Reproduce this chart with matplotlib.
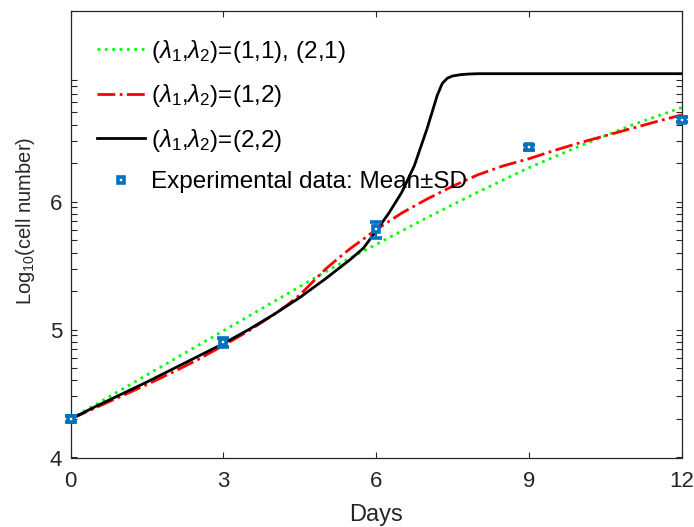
import matplotlib
matplotlib.use('Agg')
import matplotlib.pyplot as plt
import numpy as np
from matplotlib.ticker import FixedLocator, FixedFormatter, NullFormatter
from matplotlib.lines import Line2D

plt.rcParams['font.family'] = ['Liberation Sans', 'DejaVu Sans']
plt.rcParams['mathtext.fontset'] = 'custom'
plt.rcParams['mathtext.rm'] = 'Liberation Sans'
plt.rcParams['mathtext.it'] = 'Liberation Sans:italic'
plt.rcParams['mathtext.bf'] = 'Liberation Sans:bold'

# ---- data (log10 of cell number) ----
days_green = [0, 0.5, 1, 1.5, 2, 2.5, 3, 3.5, 4, 4.5, 5, 5.5, 6, 6.5, 7, 7.5, 8, 8.5, 9, 9.5, 10, 10.5, 11, 11.5, 12]
log_green = [4.30, 4.415, 4.53, 4.645, 4.76, 4.875, 4.99, 5.105, 5.22, 5.335, 5.45, 5.56, 5.665, 5.77, 5.875, 5.975, 6.075, 6.17, 6.265, 6.35, 6.435, 6.515, 6.595, 6.665, 6.735]

days_red = [0, 0.5, 1, 1.5, 2, 2.5, 3, 3.5, 4, 4.25, 4.5, 4.75, 5, 5.25, 5.5, 6, 6.5, 7, 7.5, 8, 8.5, 9, 9.5, 10, 10.5, 11, 11.5, 12]
log_red = [4.30, 4.39, 4.48, 4.57, 4.665, 4.765, 4.875, 4.99, 5.12, 5.19, 5.27, 5.37, 5.47, 5.555, 5.635, 5.78, 5.91, 6.02, 6.12, 6.21, 6.28, 6.335, 6.40, 6.46, 6.515, 6.57, 6.625, 6.678]

days_black = [0, 0.5, 1, 1.5, 2, 2.5, 3, 3.5, 4, 4.5, 5, 5.5, 5.75, 6, 6.25, 6.5, 6.75, 7, 7.1, 7.2, 7.3, 7.4, 7.5, 7.65, 7.8, 8, 9, 10, 11, 12]
log_black = [4.30, 4.40, 4.495, 4.59, 4.69, 4.79, 4.89, 5.0, 5.12, 5.25, 5.395, 5.55, 5.636, 5.77, 5.91, 6.07, 6.28, 6.57, 6.70, 6.83, 6.925, 6.965, 6.982, 6.992, 6.997, 7.0, 7.0, 7.0, 7.0, 7.0]

exp_days = [0, 3, 6, 9, 12]
exp_mean = [2.0e4, 7.94e4, 6.08e5, 2.66e6, 4.36e6]
exp_sd = [1.0e3, 6.0e3, 9.0e4, 1.2e5, 2.0e5]

x_ticks = [0, 3, 6, 9, 12]
y_ticks = [1e4, 1e5, 1e6]
y_tick_labels = ['4', '5', '6']

labels = [r'($\lambda_1$,$\lambda_2$)=(1,1), (2,1)',
          r'($\lambda_1$,$\lambda_2$)=(1,2)',
          r'($\lambda_1$,$\lambda_2$)=(2,2)',
          'Experimental data: Mean\u00b1SD']

blue = '#0072BD'
fs = 16
fs_leg = 17.5

fig = plt.figure(figsize=(6.94, 5.27), dpi=100)
ax = fig.add_axes([70.5/694, 1-457.5/527, (681.7-70.5)/694, (457.5-11)/527])

to_cells = lambda v: 10**np.asarray(v)
ax.plot(days_green, to_cells(log_green), ':', color=(0, 1, 0), lw=2.0)
ax.plot(days_red, to_cells(log_red), '-.', color=(1, 0, 0), lw=2.0)
ax.plot(days_black, to_cells(log_black), '-', color='black', lw=2.0)
ax.errorbar(exp_days, exp_mean, yerr=exp_sd, fmt='s', color=blue, mfc='white', mec=blue,
            ms=4.7, mew=2.6, capsize=4.5, elinewidth=1.5, capthick=1.5, clip_on=False, zorder=5)

ax.set_yscale('log')
ax.set_xlim(0, 12)
ax.set_ylim(1e4, 10**7.49)

ax.xaxis.set_major_locator(FixedLocator(x_ticks))
ax.yaxis.set_major_locator(FixedLocator(y_ticks))
ax.yaxis.set_major_formatter(FixedFormatter(y_tick_labels))
minor = [k*10**n for n in (4, 5, 6) for k in range(2, 10)]
ax.yaxis.set_minor_locator(FixedLocator(minor))
ax.yaxis.set_minor_formatter(NullFormatter())

ax.tick_params(which='both', direction='in', top=True, right=True, length=4.4, width=0.8,
               color='#262626', labelsize=fs, labelcolor='#262626')
ax.tick_params(axis='x', pad=9.5)
ax.tick_params(axis='y', pad=6)
for s in ax.spines.values():
    s.set_color('#262626')
    s.set_linewidth(0.9)

ax.set_xlabel('Days', fontsize=17, color='#262626', labelpad=9)
ax.set_ylabel(r'Log$_{10}$(cell number)', fontsize=14.5, color='#262626')
ax.yaxis.set_label_coords(-0.054, 0.53)

handles = [Line2D([], [], ls=':', color=(0, 1, 0), lw=2.0),
           Line2D([], [], ls='-.', color=(1, 0, 0), lw=2.0),
           Line2D([], [], ls='-', color='black', lw=2.0),
           Line2D([], [], ls='none', marker='s', color=blue, mfc='white', mec=blue, ms=4.7, mew=2.6)]
leg = ax.legend(handles, labels, loc='upper left', frameon=False, fontsize=fs_leg,
                handlelength=2.0, handletextpad=0.25, labelspacing=0.72,
                bbox_to_anchor=(0.027, 0.962), borderaxespad=0.0)

fig.savefig('out.png', dpi=100)
